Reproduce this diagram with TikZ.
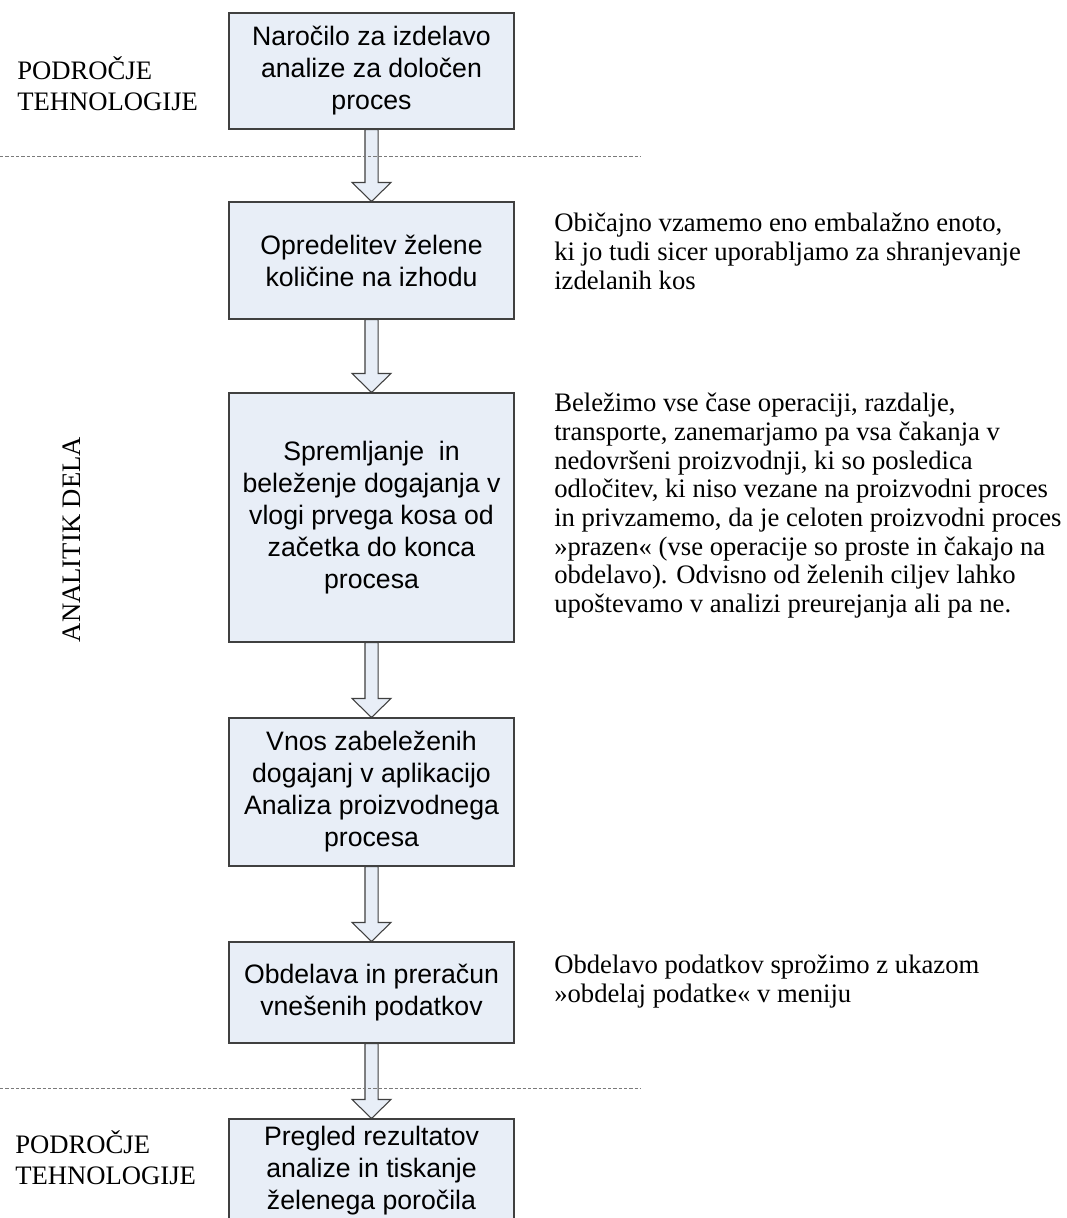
\documentclass[tikz,border=0pt]{standalone}
\usepackage{fontspec}
\setmainfont{Liberation Serif}
\newfontfamily\boxfont{Liberation Sans}
\definecolor{boxfill}{HTML}{E8EEF7}
\definecolor{boxline}{HTML}{404040}
\definecolor{rulegray}{HTML}{7A7A7A}
\newcommand{\flowarrow}[2]{%
  \draw[fatarrow] ([xshift=-4.9pt]#1.south) -- ([xshift=-4.9pt,yshift=14.25pt]#2.north)
    -- ([xshift=-14.6pt,yshift=14.25pt]#2.north) -- (#2.north)
    -- ([xshift=14.6pt,yshift=14.25pt]#2.north) -- ([xshift=4.9pt,yshift=14.25pt]#2.north)
    -- ([xshift=4.9pt]#1.south) -- cycle;}
\begin{document}
\begin{tikzpicture}[x=0.75pt,y=-0.75pt]
  \tikzstyle{box}=[draw=boxline, fill=boxfill, line width=0.8pt, minimum width=213.75pt, inner sep=0pt, align=center, font=\boxfont\fontsize{20}{24}\selectfont]
  \tikzstyle{fatarrow}=[draw=boxline, fill=boxfill, line width=0.8pt, line join=miter]
  \tikzstyle{note}=[inner sep=0pt, anchor=north west, align=left, font=\fontsize{20}{21.5}\selectfont]
  \tikzstyle{side}=[inner sep=0pt, anchor=north west, align=left, font=\fontsize{20}{23.5}\selectfont]
  \tikzstyle{divider}=[draw=rulegray, line width=0.75pt, dash pattern=on 2.5pt off 1.5pt]
  \useasboundingbox (0,0) rectangle (1067,1218);
  \clip (0,0) rectangle (1067,1218);
  \node[box, minimum height=87pt] (order) at (371.5,71) {Naročilo za izdelavo\\analize za določen\\proces};
  \node[box, minimum height=87.75pt] (amount) at (371.5,260.5) {Opredelitev želene\\količine na izhodu};
  \node[box, minimum height=186.75pt] (follow) at (371.5,517.5) {Spremljanje~ in\\beleženje dogajanja v\\vlogi prvega kosa od\\začetka do konca\\procesa};
  \node[box, minimum height=111pt] (entry) at (371.5,792) {Vnos zabeleženih\\dogajanj v aplikacijo\\Analiza proizvodnega\\procesa};
  \node[box, minimum height=75.75pt] (calc) at (371.5,992.5) {Obdelava in preračun\\vnešenih podatkov};
  \node[box, minimum height=78pt] (report) at (371.5,1171) {Pregled rezultatov\\analize in tiskanje\\želenega poročila};
  \foreach \a/\b in {order/amount, amount/follow, follow/entry, entry/calc, calc/report}
    \flowarrow{\a}{\b};
  \coordinate (topleft) at (0,156);
  \coordinate (topright) at (641,156);
  \coordinate (botleft) at (0,1088);
  \coordinate (botright) at (641,1088);
  \draw[divider] (topleft) -- (topright);
  \draw[divider] (botleft) -- (botright);
  \node[side] (techtop) at (17,56) {PODROČJE\\TEHNOLOGIJE};
  \node[side] (techbot) at (15,1130) {PODROČJE\\TEHNOLOGIJE};
  \node[inner sep=0pt, anchor=base, rotate=90, font=\fontsize{20}{24}\selectfont] (analyst) at (80,539.5) {ANALITIK DELA};
  \node[note] (noteunit) at (554,213) {Običajno vzamemo eno embalažno enoto,\\ki jo tudi sicer uporabljamo za shranjevanje\\izdelanih kos};
  \node[note] (notefollow) at (554,393) {Beležimo vse čase operaciji, razdalje,\\transporte, zanemarjamo pa vsa čakanja v\\nedovršeni proizvodnji, ki so posledica\\odločitev, ki niso vezane na proizvodni proces\\in privzamemo, da je celoten proizvodni proces\\»prazen« (vse operacije so proste in čakajo na\\obdelavo). Odvisno od želenih ciljev lahko\\upoštevamo v analizi preurejanja ali pa ne.};
  \node[note] (notecalc) at (554,955) {Obdelavo podatkov sprožimo z ukazom\\»obdelaj podatke« v meniju};
\end{tikzpicture}
\end{document}
